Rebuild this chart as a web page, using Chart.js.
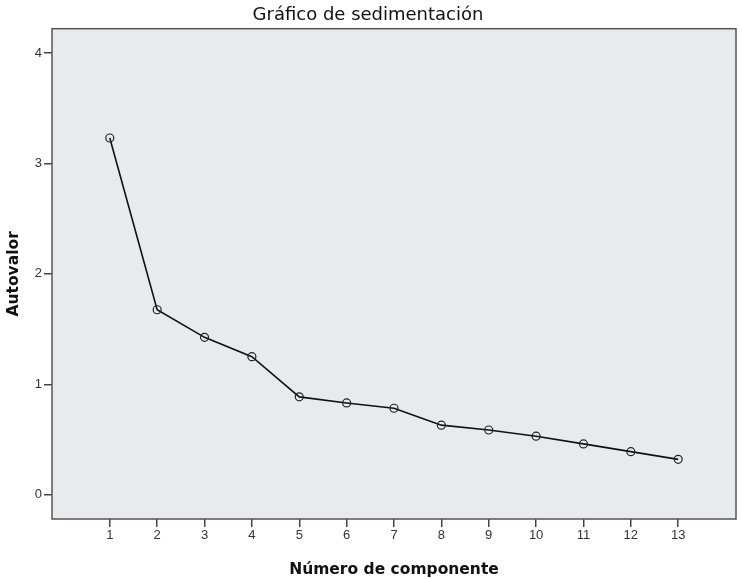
<!DOCTYPE html>
<html>
<head>
<meta charset="utf-8">
<script src="https://cdn.jsdelivr.net/npm/chart.js@4"></script>
<style>
  html, body { margin: 0; padding: 0; background: #fff; }
  #wrap { width: 742px; height: 579px; }
</style>
</head>
<body>
<div id="wrap"><canvas id="myChart" width="742" height="579"></canvas></div>
<script>
// datos del gráfico de sedimentación
const componentes = [1, 2, 3, 4, 5, 6, 7, 8, 9, 10, 11, 12, 13];
const autovalores = [3.23, 1.675, 1.425, 1.25, 0.886, 0.831, 0.783, 0.63, 0.586, 0.53, 0.46, 0.39, 0.32];
const ticksY = [0, 1, 2, 3, 4];

const puntos = componentes.map((c, i) => ({ x: c, y: autovalores[i] }));

// fondo gris y marco del área de trazado
const marco = {
  id: "marco",
  beforeDraw(chart) {
    const { ctx, chartArea: a } = chart;
    ctx.save();
    ctx.fillStyle = "#e9eaeb";
    ctx.fillRect(a.left, a.top, a.right - a.left, a.bottom - a.top);
    ctx.restore();
  },
  afterDraw(chart) {
    const { ctx, chartArea: a } = chart;
    ctx.save();
    ctx.strokeStyle = "#555";
    ctx.lineWidth = 1.5;
    ctx.strokeRect(a.left, a.top, a.right - a.left, a.bottom - a.top);
    ctx.restore();
  },
};

const fuente = "DejaVu Sans, Verdana, sans-serif";

const ctx = document.querySelector("#myChart").getContext("2d");
new Chart(ctx, {
  type: "line",
  data: {
    datasets: [
      {
        data: puntos,
        borderColor: "#111",
        borderWidth: 1.6,
        pointRadius: 4,
        pointBorderWidth: 1.2,
        pointBorderColor: "#222",
        pointBackgroundColor: "transparent",
        tension: 0,
      },
    ],
  },
  options: {
    responsive: false,
    animation: false,
    layout: { padding: { left: 0, right: 6, top: 0, bottom: 0 } },
    plugins: {
      legend: { display: false },
      tooltip: { enabled: false },
      title: {
        display: true,
        text: "Gráfico de sedimentación",
        color: "#111",
        font: { family: fuente, size: 18, weight: "normal", lineHeight: 1.15 },
        padding: { top: 5, bottom: 3 },
      },
    },
    scales: {
      x: {
        type: "linear",
        min: -0.22,
        max: 14.22,
        afterBuildTicks(scale) {
          scale.ticks = componentes.map((v) => ({ value: v }));
        },
        afterFit(scale) {
          scale.height = 60;
        },
        grid: { drawOnChartArea: false, tickLength: 8, color: "#444", lineWidth: 1.5 },
        border: { display: false },
        ticks: {
          color: "#333",
          font: { family: "Liberation Sans, Arial", size: 13 },
          padding: 1,
          maxRotation: 0,
          autoSkip: false,
        },
        title: {
          display: true,
          text: "Número de componente",
          color: "#111",
          font: { family: fuente, size: 15.5, weight: "bold" },
          padding: { top: 8, bottom: 0 },
        },
      },
      y: {
        min: -0.22,
        max: 4.22,
        afterBuildTicks(scale) {
          scale.ticks = ticksY.map((v) => ({ value: v }));
        },
        afterFit(scale) {
          scale.width = 52;
        },
        grid: { drawOnChartArea: false, tickLength: 8, color: "#444", lineWidth: 1.5 },
        border: { display: false },
        ticks: {
          color: "#333",
          font: { family: "Liberation Sans, Arial", size: 13 },
          padding: 2,
        },
        title: {
          display: true,
          text: "Autovalor",
          color: "#111",
          font: { family: fuente, size: 15.5, weight: "bold" },
          padding: { top: 5, bottom: 4 },
        },
      },
    },
  },
  plugins: [marco],
});
</script>
</body>
</html>
